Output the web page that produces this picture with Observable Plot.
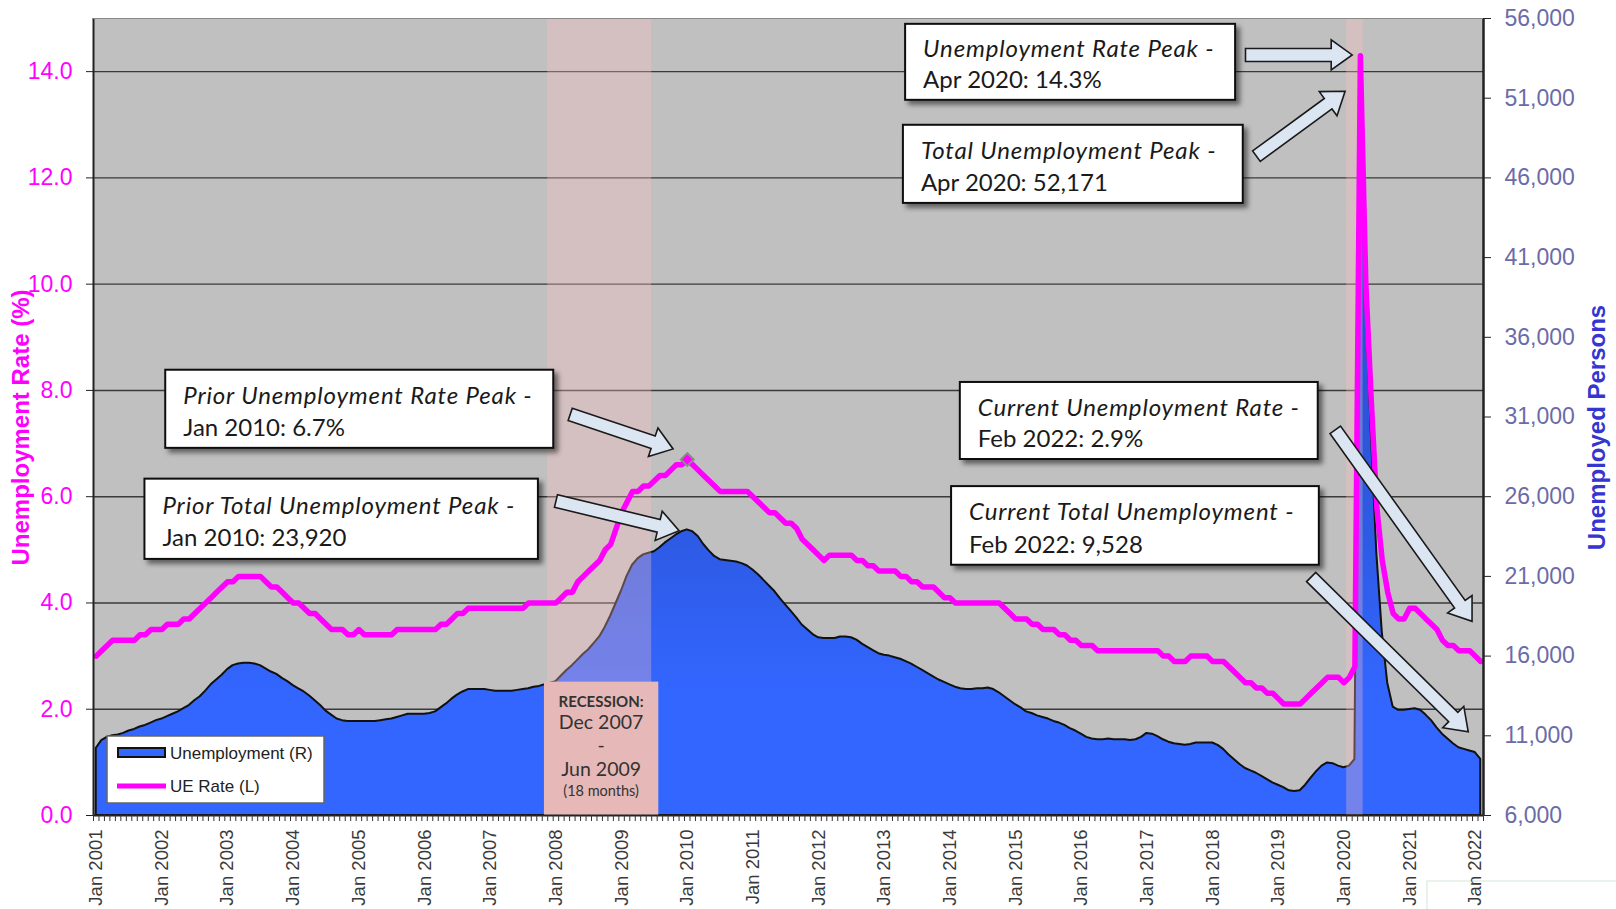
<!DOCTYPE html>
<html>
<head>
<meta charset="utf-8">
<script src="https://cdn.jsdelivr.net/npm/d3@7"></script>
<script src="https://cdn.jsdelivr.net/npm/@observablehq/plot@0.6"></script>
<style>
  html, body { margin: 0; padding: 0; background: #fff; overflow: hidden; }
  #chart { position: relative; width: 1616px; height: 909px; }
</style>
</head>
<body>
<div id="chart"></div>
<script>
// ---------------- DATA ----------------
const startYear = 2001;
const monthNames = ["Jan","Feb","Mar","Apr","May","Jun","Jul","Aug","Sep","Oct","Nov","Dec"];
const yearLabels = ["Jan 2001","Jan 2002","Jan 2003","Jan 2004","Jan 2005","Jan 2006","Jan 2007",
  "Jan 2008","Jan 2009","Jan 2010","Jan 2011","Jan 2012","Jan 2013","Jan 2014","Jan 2015",
  "Jan 2016","Jan 2017","Jan 2018","Jan 2019","Jan 2020","Jan 2021","Jan 2022"];

// Monthly unemployment rate (%), Jan 2001 - Feb 2022 (left axis)
const ueRate = [
  3.0,3.1,3.2,3.3,3.3,3.3,3.3,3.3,3.4,3.4,3.5,3.5,
  3.5,3.6,3.6,3.6,3.7,3.7,3.8,3.9,4.0,4.1,4.2,4.3,
  4.4,4.4,4.5,4.5,4.5,4.5,4.5,4.4,4.3,4.3,4.2,4.1,
  4.0,4.0,3.9,3.8,3.8,3.7,3.6,3.5,3.5,3.5,3.4,3.4,
  3.5,3.4,3.4,3.4,3.4,3.4,3.4,3.5,3.5,3.5,3.5,3.5,
  3.5,3.5,3.5,3.6,3.6,3.7,3.8,3.8,3.9,3.9,3.9,3.9,
  3.9,3.9,3.9,3.9,3.9,3.9,3.9,4.0,4.0,4.0,4.0,4.0,
  4.0,4.1,4.2,4.2,4.4,4.5,4.6,4.7,4.8,5.0,5.1,5.4,
  5.7,5.9,6.1,6.1,6.2,6.2,6.3,6.4,6.4,6.5,6.6,6.6,
  6.7,6.6,6.5,6.4,6.3,6.2,6.1,6.1,6.1,6.1,6.1,6.1,
  6.0,5.9,5.8,5.7,5.7,5.6,5.5,5.5,5.4,5.2,5.1,5.0,
  4.9,4.8,4.9,4.9,4.9,4.9,4.9,4.8,4.8,4.7,4.7,4.6,
  4.6,4.6,4.6,4.5,4.5,4.4,4.4,4.3,4.3,4.3,4.2,4.1,
  4.1,4.0,4.0,4.0,4.0,4.0,4.0,4.0,4.0,4.0,3.9,3.8,
  3.7,3.7,3.7,3.6,3.6,3.5,3.5,3.5,3.4,3.4,3.3,3.3,
  3.2,3.2,3.2,3.1,3.1,3.1,3.1,3.1,3.1,3.1,3.1,3.1,
  3.1,3.1,3.1,3.0,3.0,2.9,2.9,2.9,3.0,3.0,3.0,3.0,
  2.9,2.9,2.9,2.8,2.7,2.6,2.5,2.5,2.4,2.4,2.3,2.3,
  2.2,2.1,2.1,2.1,2.1,2.2,2.3,2.4,2.5,2.6,2.6,2.6,
  2.5,2.6,2.8,14.3,10.0,7.8,5.8,4.8,4.2,3.8,3.7,3.7,
  3.9,3.9,3.8,3.7,3.6,3.5,3.3,3.2,3.2,3.1,3.1,3.1,
  3.0,2.9
];

// Monthly unemployed persons, Jan 2001 - Feb 2022 (right axis)
const unemployed = [
  10200,10700,10900,11000,11050,11150,11300,11400,11550,11650,11800,11950,
  12050,12200,12350,12500,12700,12900,13200,13450,13800,14200,14500,14800,
  15150,15400,15500,15550,15550,15500,15400,15200,15000,14850,14600,14400,
  14150,13950,13750,13500,13200,12900,12550,12300,12050,11950,11900,11900,
  11900,11900,11900,11900,11950,12000,12050,12150,12250,12350,12350,12350,
  12350,12400,12500,12750,13000,13300,13550,13750,13900,13900,13900,13900,
  13850,13800,13800,13800,13800,13850,13900,13950,14050,14100,14200,14300,
  14400,14750,15100,15400,15750,16100,16400,16800,17200,17800,18500,19300,
  20100,21000,21700,22100,22350,22450,22550,22800,23100,23350,23600,23800,
  23920,23800,23500,23000,22600,22250,22050,22000,21950,21900,21800,21650,
  21400,21100,20750,20400,20050,19600,19200,18800,18400,17950,17650,17350,
  17150,17100,17100,17100,17200,17200,17150,17000,16750,16550,16350,16150,
  16050,16000,15900,15800,15650,15500,15300,15100,14900,14700,14500,14350,
  14200,14050,13950,13900,13900,13950,13950,14000,13900,13700,13450,13200,
  12950,12750,12500,12400,12250,12150,12050,11900,11800,11650,11450,11300,
  11100,10900,10800,10750,10750,10800,10750,10750,10750,10700,10750,10900,
  11150,11100,10950,10750,10600,10500,10450,10400,10450,10550,10550,10550,
  10550,10400,10150,9800,9500,9200,8950,8800,8650,8450,8250,8050,
  7900,7750,7550,7500,7550,7900,8350,8750,9100,9300,9250,9100,
  9000,9100,9500,52171,38500,30000,22500,17500,14300,12800,12600,12600,
  12650,12700,12600,12300,11950,11500,11100,10800,10500,10250,10150,10050,
  9950,9528
];

const leftTicks = [0, 2, 4, 6, 8, 10, 12, 14];
const rightTicks = [6000, 11000, 16000, 21000, 26000, 31000, 36000, 41000, 46000, 51000, 56000];
const recessions = [
  {from: [2007, 12], to: [2009, 6], label: true},
  {from: [2020, 2], to: [2020, 4], label: false}
];

// ---------------- HELPERS ----------------
const N = ueRate.length;
const L_MAX = 15;                       // left axis top
const R_MIN = 6000, R_MAX = 56000;      // right axis range
const toLeft = v => (v - R_MIN) / (R_MAX - R_MIN) * L_MAX;
const fromLeft = v => R_MIN + v * (R_MAX - R_MIN) / L_MAX;
const idx = ([y, m]) => (y - startYear) * 12 + (m - 1);
const monthLabel = i => `${monthNames[i % 12]} ${startYear + Math.floor(i / 12)}`;
const fmtInt = d3.format(",");

const data = d3.range(N).map(i => ({i, rate: ueRate[i], u: unemployed[i]}));
const bands = recessions.map(r => ({s: idx(r.from), e: idx(r.to), label: r.label}));

const iRatePeak = d3.maxIndex(ueRate);
const iUPeak = d3.maxIndex(unemployed);
const iPriorRate = d3.maxIndex(ueRate.slice(0, 200));
const iPriorU = d3.maxIndex(unemployed.slice(0, 200));
const iLast = N - 1;

// callouts: box [x1, x2, yTop, yBottom] and arrow [tail, tip] in data space (month index, left-axis units)
const callouts = [
  {lines: ["Unemployment Rate Peak -", `${monthLabel(iRatePeak)}: ${ueRate[iRatePeak].toFixed(1)}%`],
   box: [147.9, 208.2, 14.89, 13.46], arrow: [[210.1, 14.305], [229.6, 14.305]]},
  {lines: ["Total Unemployment Peak -", `${monthLabel(iUPeak)}: ${fmtInt(unemployed[iUPeak])}`],
   box: [147.5, 209.6, 12.99, 11.52], arrow: [[212.1, 12.40], [228.3, 13.62]]},
  {lines: ["Prior Unemployment Rate Peak -", `${monthLabel(iPriorRate)}: ${ueRate[iPriorRate].toFixed(1)}%`],
   box: [12.7, 83.6, 8.38, 6.91], arrow: [[86.7, 7.54], [105.5, 6.89]]},
  {lines: ["Prior Total Unemployment Peak -", `${monthLabel(iPriorU)}: ${fmtInt(unemployed[iPriorU])}`],
   box: [8.9, 80.8, 6.33, 4.82], arrow: [[84.1, 5.91], [106.6, 5.35]]},
  {lines: ["Current Unemployment Rate -", `${monthLabel(iLast)}: ${ueRate[iLast].toFixed(1)}%`],
   box: [157.9, 223.3, 8.15, 6.70], arrow: [[226.5, 7.25], [251.5, 3.645]]},
  {lines: ["Current Total Unemployment -", `${monthLabel(iLast)}: ${fmtInt(unemployed[iLast])}`],
   box: [156.3, 223.5, 6.19, 4.71], arrow: [[222.1, 4.48], [250.8, 1.566]]}
];

const MAGENTA = "#ff00ff";
const CALLOUT_FONT = "Lato, 'Open Sans', sans-serif";
const AXIS_FONT = "'Liberation Sans', Arial, sans-serif";

function defsMark(index, scales, values, dims) {
  const g = d3.create("svg:g");
  const defs = g.append("defs");
  const lg = defs.append("linearGradient").attr("id", "areaGrad")
    .attr("gradientUnits", "userSpaceOnUse").attr("x1", 0).attr("y1", 0).attr("x2", 0).attr("y2", 909);
  [[0, "#1f3db0"], [0.33, "#2a4fd2"], [0.6, "#2e5be6"], [0.76, "#3366ff"], [1, "#3366ff"]]
    .forEach(([o, c]) => lg.append("stop").attr("offset", o).attr("stop-color", c));
  defs.append("filter").attr("id", "shadow").attr("x", "-10%").attr("y", "-20%").attr("width", "130%").attr("height", "160%")
    .append("feDropShadow").attr("dx", 4).attr("dy", 4).attr("stdDeviation", 2.5)
    .attr("flood-color", "#000").attr("flood-opacity", 0.5);
  // faint screenshot box in the lower-right corner (behind the axis labels)
  g.append("rect").attr("x", dims.width - 189).attr("y", dims.height - 28).attr("width", 200).attr("height", 40)
    .attr("fill", "#fff").attr("stroke", "#d3e8da").attr("stroke-width", 1);
  return g.node();
}

function arrowPath(x0, y0, x1, y1, w = 6.5, h = 15, L = 21) {
  const dx = x1 - x0, dy = y1 - y0, len = Math.hypot(dx, dy);
  const ux = dx / len, uy = dy / len, nx = -uy, ny = ux;
  const bx = x1 - ux * L, by = y1 - uy * L;
  const p = [
    [x0 + nx * w, y0 + ny * w], [bx + nx * w, by + ny * w], [bx + nx * h, by + ny * h],
    [x1, y1], [bx - nx * h, by - ny * h], [bx - nx * w, by - ny * w], [x0 - nx * w, y0 - ny * w]
  ];
  return "M" + p.map(q => q.join(",")).join("L") + "Z";
}

function annotationsMark(index, scales, values, dims) {
  const X = scales.x, Y = scales.y;
  const g = d3.create("svg:g");

  // Recession label box
  for (const b of bands.filter(b => b.label)) {
    const x1 = X(b.s - 1.1), x2 = X(b.e + 1.8), y1 = Y(2.51), y2 = Y(0);
    const cx = (x1 + x2) / 2;
    g.append("rect").attr("x", x1).attr("y", y1).attr("width", x2 - x1).attr("height", y2 - y1).attr("fill", "#e6b9b8");
    const t = g.append("g").attr("font-family", CALLOUT_FONT).attr("fill", "#333").attr("text-anchor", "middle");
    const lines = [
      ["RECESSION:", 15, "bold", 20],
      [monthLabel(b.s), 19.5, "normal", 41],
      ["-", 19.5, "normal", 64],
      [monthLabel(b.e), 19.5, "normal", 88],
      [`(${b.e - b.s} months)`, 14.5, "normal", 109]
    ];
    for (const [txt, fs, fw, dy] of lines) {
      t.append("text").attr("x", cx).attr("y", y1 + dy).attr("dy", "0.35em")
        .attr("font-size", fs).attr("font-weight", fw).text(txt);
    }
  }

  // Legend
  const lx = dims.marginLeft + 14, ly = dims.height - dims.marginBottom - 79;
  const lg = g.append("g").attr("font-family", AXIS_FONT).attr("font-size", 17).attr("fill", "#222").attr("text-anchor", "start");
  lg.append("rect").attr("x", lx).attr("y", ly).attr("width", 217).attr("height", 67)
    .attr("fill", "#fff").attr("stroke", "#666").attr("stroke-width", 1.5);
  lg.append("rect").attr("x", lx + 11).attr("y", ly + 12).attr("width", 47).attr("height", 9)
    .attr("fill", "#3366ff").attr("stroke", "#111").attr("stroke-width", 2);
  lg.append("text").attr("x", lx + 63).attr("y", ly + 17).attr("dy", "0.35em").text("Unemployment (R)");
  lg.append("line").attr("x1", lx + 10).attr("x2", lx + 59).attr("y1", ly + 50).attr("y2", ly + 50)
    .attr("stroke", MAGENTA).attr("stroke-width", 5);
  lg.append("text").attr("x", lx + 63).attr("y", ly + 50).attr("dy", "0.35em").text("UE Rate (L)");

  // Callouts
  for (const c of callouts) {
    const [[ax0, ay0], [ax1, ay1]] = c.arrow;
    g.append("path").attr("d", arrowPath(X(ax0), Y(ay0), X(ax1), Y(ay1)))
      .attr("fill", "#dce6f2").attr("stroke", "#1a1a1a").attr("stroke-width", 1.6).attr("stroke-linejoin", "miter");
  }
  for (const c of callouts) {
    const x1 = X(c.box[0]), x2 = X(c.box[1]), y1 = Y(c.box[2]), y2 = Y(c.box[3]);
    const h = y2 - y1;
    g.append("rect").attr("x", x1).attr("y", y1).attr("width", x2 - x1).attr("height", h)
      .attr("fill", "#fff").attr("stroke", "#111").attr("stroke-width", 2).attr("filter", "url(#shadow)");
    const t = g.append("g").attr("font-family", CALLOUT_FONT).attr("font-size", 24).attr("fill", "#1a1a1a")
      .attr("text-anchor", "start");
    t.append("text").attr("x", x1 + 18).attr("y", y1 + 0.33 * h).attr("dy", "0.35em")
      .attr("font-style", "italic").attr("letter-spacing", 0.85).text(c.lines[0]);
    t.append("text").attr("x", x1 + 18).attr("y", y1 + 0.74 * h).attr("dy", "0.35em").text(c.lines[1]);
  }

  // Axis titles
  const midY = 427.5;
  g.append("text").attr("transform", `translate(21,${midY}) rotate(-90)`).attr("text-anchor", "middle")
    .attr("dy", "0.35em").attr("font-family", AXIS_FONT).attr("font-weight", "bold").attr("font-size", 24)
    .attr("fill", MAGENTA).text("Unemployment Rate (%)");
  g.append("text").attr("transform", `translate(${dims.width - 19},${midY}) rotate(-90)`).attr("text-anchor", "middle")
    .attr("dy", "0.35em").attr("font-family", AXIS_FONT).attr("font-weight", "bold").attr("font-size", 24)
    .attr("fill", "#3535d0").text("Unemployed Persons");
  return g.node();
}

const chart = Plot.plot({
  width: 1616,
  height: 909,
  marginLeft: 93,
  marginRight: 133,
  marginTop: 18,
  marginBottom: 94,
  x: {type: "linear", domain: [-0.5, N - 0.5]},
  y: {domain: [0, L_MAX]},
  style: {fontFamily: AXIS_FONT, background: "#fff", overflow: "visible"},
  marks: [
    defsMark,
    Plot.frame({fill: "#c0c0c0", stroke: null}),
    Plot.ruleY(leftTicks.filter(d => d > 0), {stroke: "#3a3a3a", strokeWidth: 1.4}),
    Plot.areaY(data, {x: "i", y: d => toLeft(d.u), fill: "url(#areaGrad)", stroke: "#111", strokeWidth: 2, strokeLinejoin: "round"}),
    Plot.rect(bands, {x1: d => d.s - 0.5, x2: d => d.e + 0.5, y1: 0, y2: L_MAX, fill: "#ffc0c0", fillOpacity: 0.32}),
    Plot.lineY(data, {x: "i", y: "rate", stroke: MAGENTA, strokeWidth: 5.5, strokeLinejoin: "round", strokeLinecap: "round"}),
    Plot.dot([iPriorRate], {x: d => d, y: d => ueRate[d], symbol: "diamond2", r: 5.8, fill: MAGENTA, stroke: "#8c8c8c", strokeWidth: 2}),
    annotationsMark,
    // frame lines
    Plot.ruleX([-0.5], {stroke: "#222", strokeWidth: 2}),
    Plot.ruleX([N - 0.5], {stroke: "#222", strokeWidth: 2.5}),
    Plot.ruleY([0], {stroke: "#222", strokeWidth: 2}),
    Plot.ruleY([L_MAX], {stroke: "#8a8a8a", strokeWidth: 1.2}),
    // axes
    Plot.axisY({anchor: "left", ticks: leftTicks, tickFormat: d => d.toFixed(1), tickSize: 7, tickPadding: 14,
      fontSize: 23, fill: MAGENTA, stroke: "#222", label: null}),
    Plot.axisY({anchor: "right", ticks: rightTicks.map(toLeft), tickFormat: v => fmtInt(Math.round(fromLeft(v))),
      tickSize: 7, tickPadding: 14, fontSize: 23, fill: "#6b6ba8", stroke: "#222", label: null}),
    Plot.axisX({anchor: "bottom", ticks: d3.range(-0.5, N, 1), tickSize: 6, stroke: "#333", fill: "none", label: null}),
    Plot.axisX({anchor: "bottom", ticks: yearLabels.map((_, k) => k * 12), tickFormat: m => yearLabels[m / 12],
      tickRotate: -90, tickSize: 0, tickPadding: 14, fontSize: 18.5, fill: "#3a3a3a", label: null})
  ]
});
document.getElementById("chart").prepend(chart);
</script>
</body>
</html>
